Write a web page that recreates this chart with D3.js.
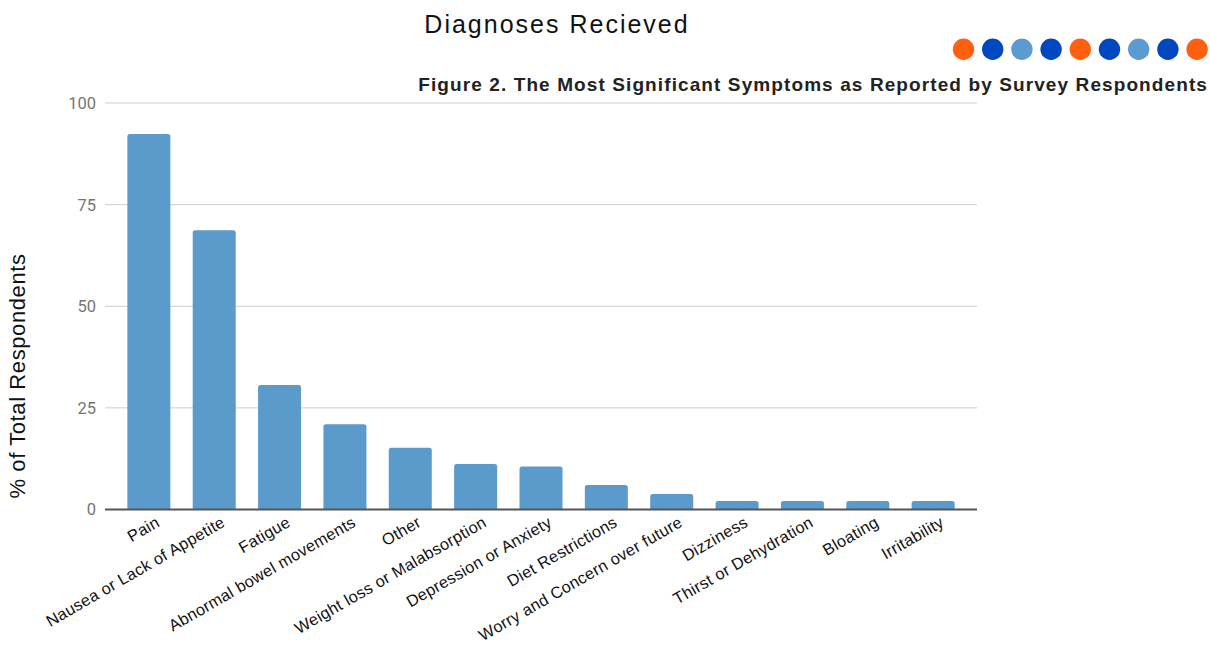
<!DOCTYPE html>
<html>
<head>
<meta charset="utf-8">
<script src="https://cdn.jsdelivr.net/npm/d3@7"></script>
<style>
  html, body { margin: 0; padding: 0; background: #fff; }
  svg { display: block; }
</style>
</head>
<body>
<svg id="chart" width="1210" height="646"></svg>
<script>
// Symptom categories and share of respondents reporting each (%)
const categories = [
  "Pain", "Nausea or Lack of Appetite", "Fatigue", "Abnormal bowel movements",
  "Other", "Weight loss or Malabsorption", "Depression or Anxiety",
  "Diet Restrictions", "Worry and Concern over future", "Dizziness",
  "Thirst or Dehydration", "Bloating", "Irritability"
];
const values = [92.4, 68.7, 30.6, 21.0, 15.2, 11.2, 10.6, 6.0, 3.8, 2.1, 2.1, 2.1, 2.1];
const yTicks = [0, 25, 50, 75, 100];

// Decorative dot row beside the heading
const dotColors = ["#ff5f0f", "#0047c2", "#5b9bcf", "#0047c2", "#ff5f0f", "#0047c2", "#5b9bcf", "#0047c2", "#ff5f0f"];

const svg = d3.select("#chart");
const plot = { left: 105, right: 977, top: 103, bottom: 509.5 };
const sans = "Liberation Sans, Arial, Helvetica, sans-serif";

const x = d3.scaleBand().domain(categories).range([plot.left, plot.right]).padding(0.342);
const y = d3.scaleLinear().domain([0, 100]).range([plot.bottom, plot.top]);

// Titles
svg.append("text")
  .attr("x", 557).attr("y", 33)
  .attr("text-anchor", "middle")
  .attr("font-family", sans)
  .attr("font-size", 25)
  .attr("letter-spacing", 2)
  .attr("fill", "#111")
  .text("Diagnoses Recieved");

svg.append("g").selectAll("circle")
  .data(dotColors)
  .join("circle")
  .attr("cx", (d, i) => 963.5 + i * 29.2)
  .attr("cy", 49.3)
  .attr("r", 10.7)
  .attr("fill", d => d);

svg.append("text")
  .attr("x", 1208).attr("y", 91)
  .attr("text-anchor", "end")
  .attr("font-family", sans)
  .attr("font-weight", "bold")
  .attr("font-size", 19)
  .attr("letter-spacing", 1.1)
  .attr("fill", "#222")
  .text("Figure 2. The Most Significant Symptoms as Reported by Survey Respondents");

// Gridlines and y tick labels
const grid = svg.append("g");
grid.selectAll("line")
  .data(yTicks.filter(d => d > 0))
  .join("line")
  .attr("x1", plot.left).attr("x2", plot.right)
  .attr("y1", d => y(d)).attr("y2", d => y(d))
  .attr("stroke", "#cccccc").attr("stroke-width", 1);

grid.selectAll("text")
  .data(yTicks)
  .join("text")
  .attr("x", 96).attr("y", d => y(d))
  .attr("dy", "0.36em")
  .attr("text-anchor", "end")
  .attr("font-family", "Roboto, sans-serif")
  .attr("font-size", 16.5)
  .attr("fill", "#757575")
  .text(d => d);

// Bars with slightly rounded top corners
function barPath(d, i) {
  const x0 = x(categories[i]);
  const w = x.bandwidth();
  const yt = y(d), yb = y(0);
  const r = Math.min(2.5, (yb - yt) / 2);
  return `M${x0},${yb} L${x0},${yt + r} Q${x0},${yt} ${x0 + r},${yt} ` +
         `L${x0 + w - r},${yt} Q${x0 + w},${yt} ${x0 + w},${yt + r} L${x0 + w},${yb} Z`;
}
svg.append("g").selectAll("path")
  .data(values)
  .join("path")
  .attr("d", barPath)
  .attr("fill", "#5b9bcb");

// Baseline
svg.append("line")
  .attr("x1", plot.left).attr("x2", plot.right)
  .attr("y1", y(0)).attr("y2", y(0))
  .attr("stroke", "#555").attr("stroke-width", 2);

// Category labels, rotated
svg.append("g").selectAll("text")
  .data(categories)
  .join("text")
  .attr("transform", d => `translate(${x(d) + x.bandwidth() / 2 + 12},${plot.bottom + 16}) rotate(-30)`)
  .attr("text-anchor", "end")
  .attr("font-family", sans)
  .attr("font-size", 16.3)
  .attr("letter-spacing", 0.3)
  .attr("fill", "#111")
  .text(d => d);

// Y axis title
svg.append("text")
  .attr("transform", "translate(25,376) rotate(-90)")
  .attr("text-anchor", "middle")
  .attr("font-family", sans)
  .attr("font-size", 22)
  .attr("letter-spacing", 0.6)
  .attr("fill", "#111")
  .text("% of Total Respondents");
</script>
</body>
</html>
